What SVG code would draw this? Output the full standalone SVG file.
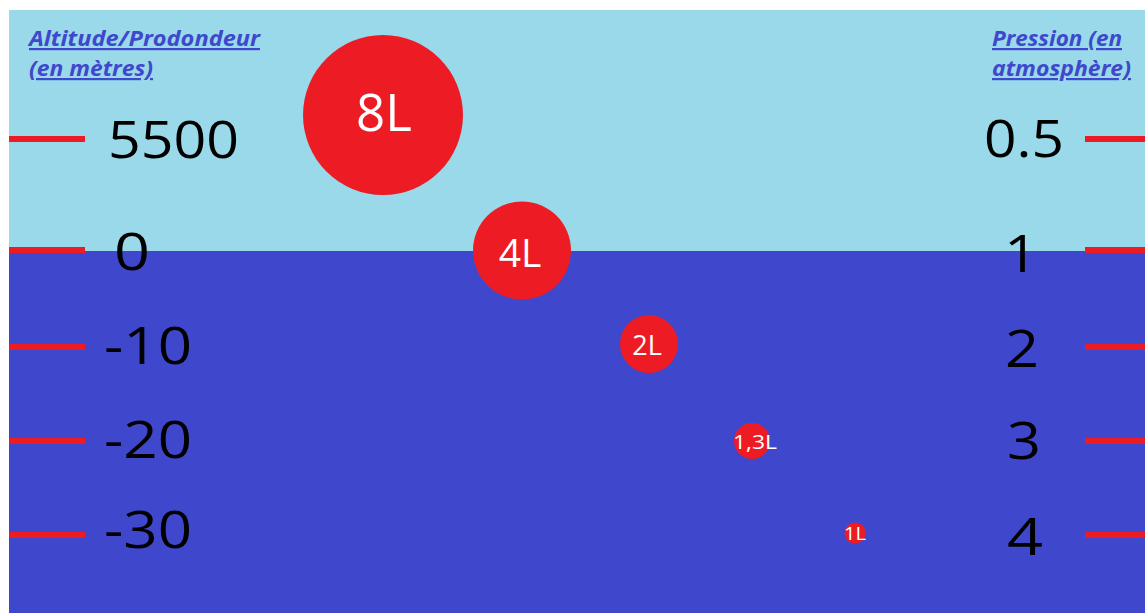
<svg xmlns="http://www.w3.org/2000/svg" width="1145" height="613" viewBox="0 0 1145 613">
<style>
.num{font-family:"Open Sans","Liberation Sans",sans-serif;font-size:52px;fill:#000}
.head{font-family:"Open Sans","Liberation Sans",sans-serif;font-size:22px;font-weight:bold;font-style:italic;fill:#3f48cc;text-decoration:underline}
.tick{fill:#ed1c24}
.bub{fill:#ed1c24}
.bl{font-family:"Open Sans","Liberation Sans",sans-serif;fill:#fff;text-anchor:middle}
</style>
<rect x="0" y="0" width="1145" height="613" fill="#ffffff"/>
<rect id="air" x="9" y="10" width="1136" height="241" fill="#99d9ea"/>
<rect id="water" x="9" y="251" width="1136" height="362" fill="#3f48cc"/>
<g id="ticks">
<rect class="tick" x="9" y="136" width="76" height="6"/>
<rect class="tick" x="9" y="247" width="76" height="6"/>
<rect class="tick" x="9" y="344" width="76" height="6"/>
<rect class="tick" x="9" y="438" width="76" height="6"/>
<rect class="tick" x="9" y="532" width="76" height="6"/>
<rect class="tick" x="1085" y="136" width="60" height="6"/>
<rect class="tick" x="1085" y="247" width="60" height="6"/>
<rect class="tick" x="1085" y="344" width="60" height="6"/>
<rect class="tick" x="1085" y="438" width="60" height="6"/>
<rect class="tick" x="1085" y="532" width="60" height="6"/>
</g>
<g id="headings">
<text class="head" x="29" y="46" textLength="231" lengthAdjust="spacingAndGlyphs">Altitude/Prodondeur</text>
<text class="head" x="29" y="76" textLength="124" lengthAdjust="spacingAndGlyphs">(en mètres)</text>
<text class="head" x="992" y="46" textLength="130" lengthAdjust="spacingAndGlyphs">Pression (en</text>
<text class="head" x="992" y="76" textLength="139" lengthAdjust="spacingAndGlyphs">atmosphère)</text>
</g>
<g id="altitudes">
<text class="num" x="108" y="158" textLength="131" lengthAdjust="spacingAndGlyphs">5500</text>
<text class="num" x="114" y="270" textLength="36" lengthAdjust="spacingAndGlyphs">0</text>
<text class="num" x="104" y="364" textLength="88" lengthAdjust="spacingAndGlyphs">-10</text>
<text class="num" x="104" y="458" textLength="88" lengthAdjust="spacingAndGlyphs">-20</text>
<text class="num" x="104" y="548" textLength="88" lengthAdjust="spacingAndGlyphs">-30</text>
</g>
<g id="pressures">
<text class="num" x="984" y="157" textLength="80" lengthAdjust="spacingAndGlyphs">0.5</text>
<text class="num" x="1004" y="272" textLength="34" lengthAdjust="spacingAndGlyphs">1</text>
<text class="num" x="1005" y="367" textLength="34" lengthAdjust="spacingAndGlyphs">2</text>
<text class="num" x="1007" y="459" textLength="34" lengthAdjust="spacingAndGlyphs">3</text>
<text class="num" x="1007" y="555" textLength="36" lengthAdjust="spacingAndGlyphs">4</text>
</g>
<g id="bubble-8L">
<circle class="bub" cx="383" cy="115" r="80"/>
<text class="bl" x="384" y="131" font-size="51">8L</text>
</g>
<g id="bubble-4L">
<circle class="bub" cx="522" cy="250.5" r="49"/>
<text class="bl" x="520" y="267" font-size="39">4L</text>
</g>
<g id="bubble-2L">
<circle class="bub" cx="649" cy="344" r="29"/>
<text class="bl" x="647" y="355" font-size="27">2L</text>
</g>
<g id="bubble-13L">
<circle class="bub" cx="752" cy="441" r="18"/>
<text class="bl" x="755" y="449" font-size="20" textLength="44" lengthAdjust="spacingAndGlyphs">1,3L</text>
</g>
<g id="bubble-1L">
<circle class="bub" cx="855" cy="533" r="10.5"/>
<text class="bl" x="855" y="540" font-size="18" textLength="22" lengthAdjust="spacingAndGlyphs">1L</text>
</g>
</svg>
